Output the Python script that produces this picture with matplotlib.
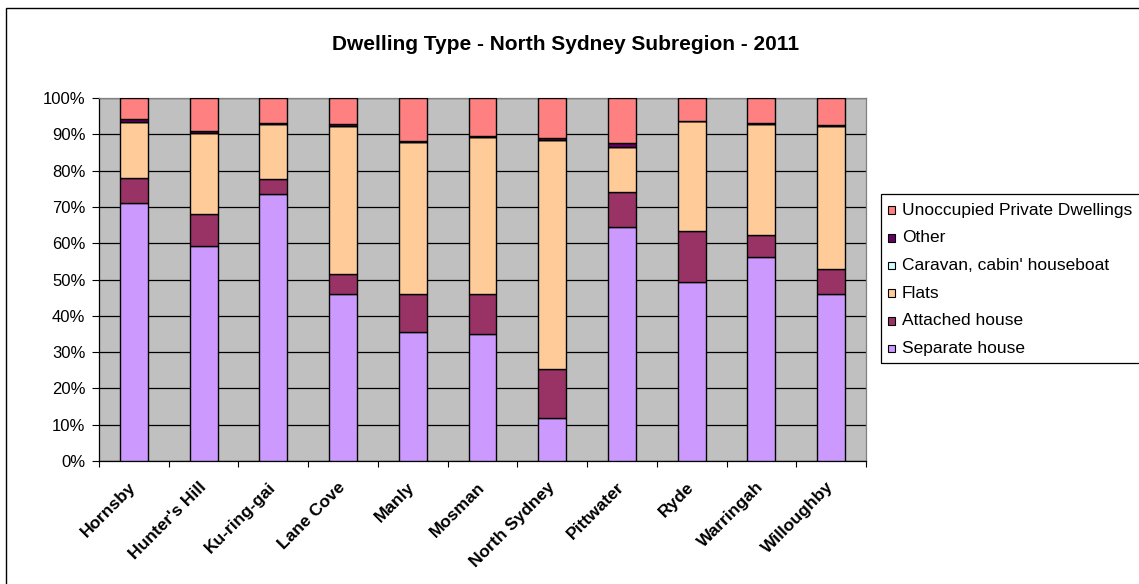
import matplotlib
matplotlib.use("Agg")
import matplotlib.pyplot as plt
import numpy as np
from matplotlib.patches import Rectangle
from matplotlib.ticker import FixedLocator, PercentFormatter

plt.rcParams['font.family'] = ['Liberation Sans', 'DejaVu Sans']

regions = ["Hornsby", "Hunter's Hill", "Ku-ring-gai", "Lane Cove", "Manly", "Mosman",
           "North Sydney", "Pittwater", "Ryde", "Warringah", "Willoughby"]

# Share of dwellings (%) by type
separate_house = [71.0, 59.2, 73.6, 45.9, 35.5, 34.9, 11.9, 64.5, 49.2, 56.3, 45.9]
attached_house = [7.0, 8.9, 4.1, 5.6, 10.5, 11.1, 13.4, 9.6, 14.2, 5.9, 7.1]
flats = [15.5, 22.2, 15.1, 40.8, 41.8, 43.3, 63.1, 12.3, 30.2, 30.6, 39.2]
caravan = [0.0, 0.0, 0.0, 0.0, 0.0, 0.0, 0.0, 0.1, 0.0, 0.0, 0.0]
other = [0.6, 0.7, 0.2, 0.5, 0.4, 0.3, 0.5, 1.0, 0.2, 0.3, 0.4]
unoccupied = [5.9, 9.0, 7.0, 7.2, 11.8, 10.4, 11.1, 12.5, 6.2, 6.9, 7.4]

series_names = ["Separate house", "Attached house", "Flats", "Caravan, cabin' houseboat",
                "Other", "Unoccupied Private Dwellings"]
series_values = [separate_house, attached_house, flats, caravan, other, unoccupied]
series_colors = ["#CC99FF", "#993366", "#FFCC99", "#CCFFFF", "#660066", "#FF8080"]

W, H = 1139, 584
fig = plt.figure(figsize=(W / 100, H / 100), dpi=100)
fig.patch.set_facecolor("white")


def fx(px):
    return px / W


def fy(py):
    return 1 - py / H


# Outer chart frame (runs past the right and bottom edges)
fig.add_artist(Rectangle((fx(6), -0.05), 1.2, fy(8) + 0.05, transform=fig.transFigure,
                         fill=False, edgecolor="black", linewidth=1.0))

left, right, top, bottom = 99, 866, 98, 461
ax = fig.add_axes([fx(left), fy(bottom), (right - left) / W, (bottom - top) / H])
ax.set_facecolor("#C0C0C0")

x = np.arange(len(regions))
base = np.zeros(len(regions))
for vals, col in zip(series_values, series_colors):
    v = np.array(vals)
    ax.bar(x, v, 0.4, bottom=base, color=col, edgecolor="black", linewidth=1.0, zorder=3)
    base += v

ax.set_xlim(-0.5, len(regions) - 0.5)
ax.set_ylim(0, 100)
ax.set_yticks(np.arange(0, 101, 10))
ax.yaxis.set_major_formatter(PercentFormatter(decimals=0))
ax.grid(axis="y", color="black", linewidth=0.9, zorder=1)
ax.set_axisbelow(True)

ax.set_xticks(x)
ax.set_xticklabels(regions, rotation=45, ha="right", va="center", rotation_mode="anchor",
                   fontsize=12.5, fontweight="bold")
ax.xaxis.set_minor_locator(FixedLocator(np.arange(-0.5, len(regions), 1.0)))
ax.tick_params(axis="x", which="major", length=0, pad=17)
ax.tick_params(axis="x", which="minor", length=4, width=0.8, color="black")
ax.tick_params(axis="y", length=4.8, width=0.8, labelsize=12, pad=5)

for s in ["left", "bottom"]:
    ax.spines[s].set_color("black")
    ax.spines[s].set_linewidth(0.9)
for s in ["top", "right"]:
    ax.spines[s].set_color("#808080")
    ax.spines[s].set_linewidth(0.9)

fig.text(fx(566), fy(50), "Dwelling Type - North Sydney Subregion - 2011",
         ha="center", va="baseline", fontsize=15, fontweight="bold")

# Legend: frame, colour keys and labels, top entry is the last series
fig.add_artist(Rectangle((fx(881), fy(363)), 0.5, (363 - 194) / H,
                         transform=fig.transFigure, fill=False, edgecolor="black", linewidth=0.9))
row0, step = 210.0, 27.7
for i, (name, col) in enumerate(zip(series_names[::-1], series_colors[::-1])):
    yc = row0 + i * step
    fig.add_artist(Rectangle((fx(887.5), fy(yc + 3.8)), 7.5 / W, 7.5 / H,
                             transform=fig.transFigure, facecolor=col,
                             edgecolor="black", linewidth=0.8))
    fig.text(fx(902), fy(yc), name, ha="left", va="center", fontsize=12.5)

fig.savefig("out.png", dpi=100)
